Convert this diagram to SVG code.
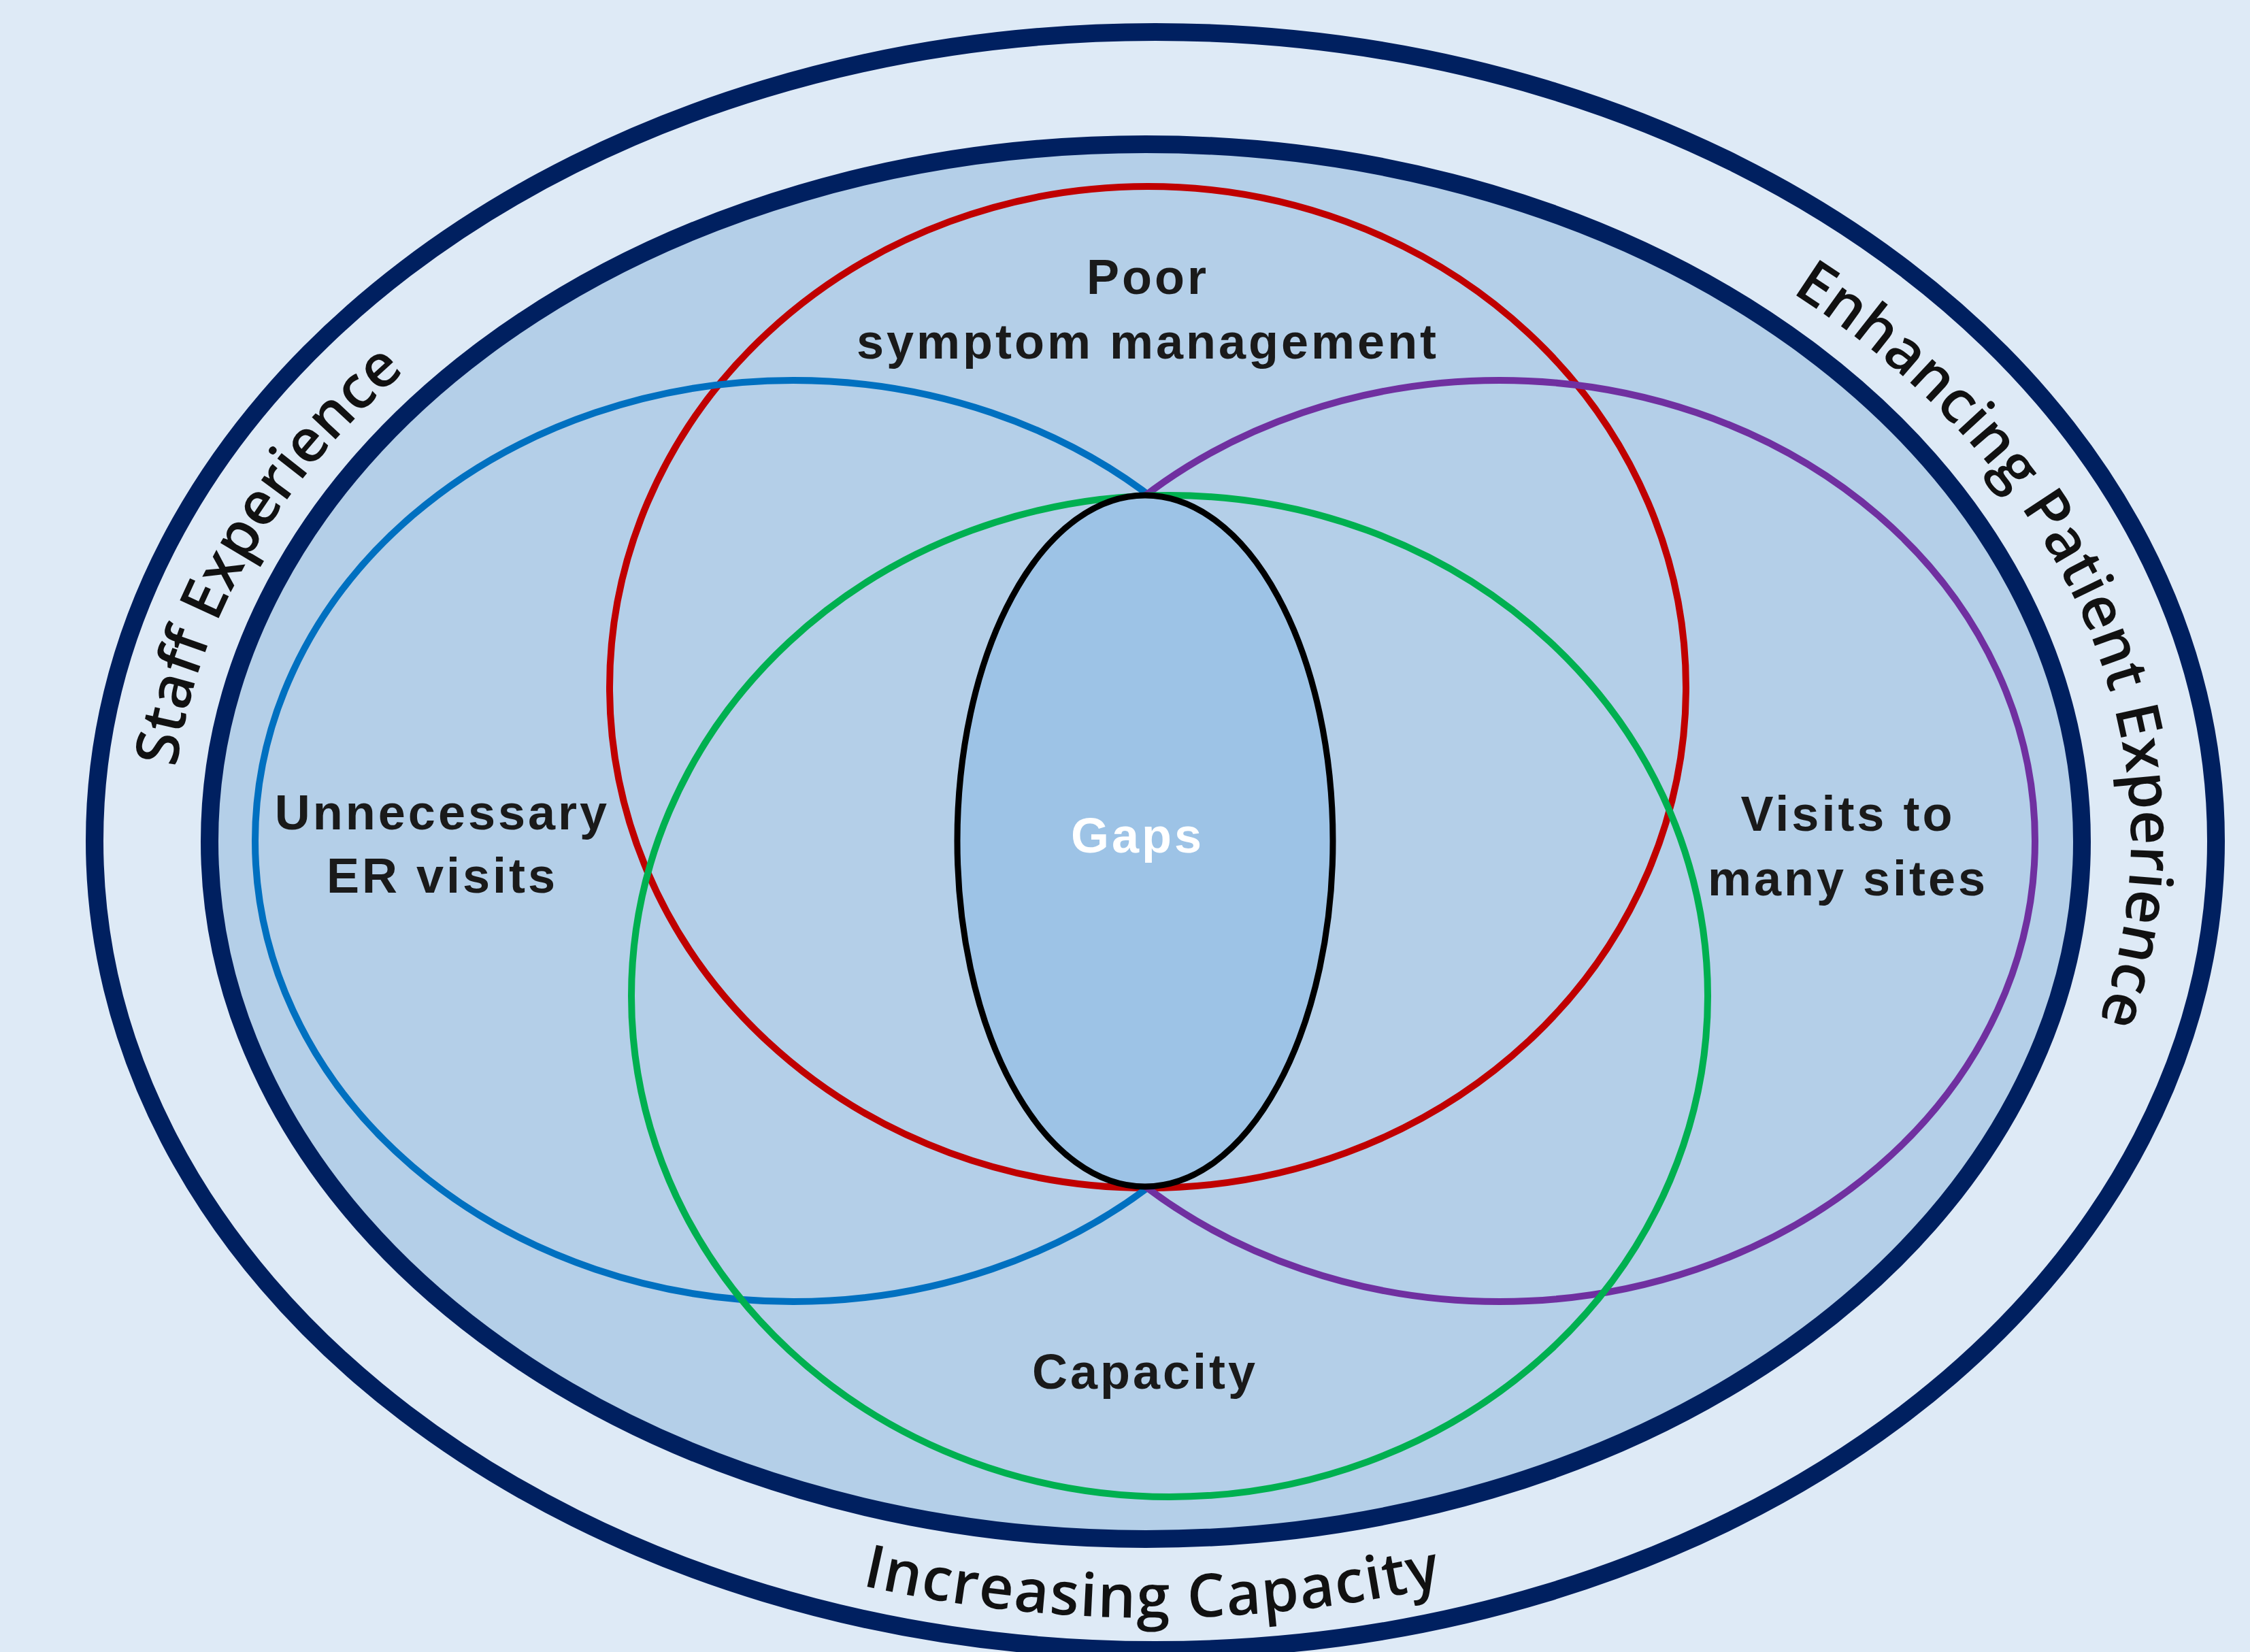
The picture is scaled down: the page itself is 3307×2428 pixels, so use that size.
<svg xmlns="http://www.w3.org/2000/svg" width="3307" height="2428" viewBox="0 0 3307 2428">
<style>
.ring{fill:none;stroke:#002060;stroke-width:26}
.set{fill:none;stroke-width:10}
.lbl{font-family:"Liberation Sans",Arial,sans-serif;font-weight:bold;font-size:72px;letter-spacing:4px;fill:#1a1a1a;text-anchor:middle}
.arc{font-family:"Open Sans","Liberation Sans",sans-serif;font-weight:600;font-size:88px;fill:#111;text-anchor:middle}
</style>
<defs>
<path id="ringPath" d="M1692,2296 A1440,1065 0 0 1 252,1236 A1440,1065 0 0 1 1692,171 A1440,1065 0 0 1 3132,1236 A1440,1065 0 0 1 1692,2296"/>
<path id="bottomPath" d="M194,1236 A1500,1142 0 0 0 3194,1236"/>
</defs>
<rect width="3307" height="2428" fill="#deeaf6"/>
<g id="outer-ring">
<ellipse class="ring" cx="1698" cy="1236" rx="1559" ry="1189"/>
<text class="arc"><textPath href="#ringPath" startOffset="2425">Staff Experience</textPath></text>
<text class="arc"><textPath href="#ringPath" startOffset="5570">Enhancing Patient Experience</textPath></text>
<text class="arc" style="letter-spacing:2px"><textPath href="#bottomPath" startOffset="50%">Increasing Capacity</textPath></text>
</g>
<g id="inner-ring">
<ellipse cx="1684" cy="1237" rx="1376" ry="1025" fill="#b4cfe8" stroke="#002060" stroke-width="26"/>
</g>
<g id="poor-symptom-management">
<ellipse class="set" cx="1687" cy="1010" rx="791" ry="736" stroke="#c00000"/>
<text class="lbl" x="1687" y="432">Poor</text>
<text class="lbl" x="1687" y="527">symptom management</text>
</g>
<g id="unnecessary-er-visits">
<ellipse class="set" cx="1166" cy="1236" rx="791" ry="677" stroke="#0070c0"/>
<text class="lbl" x="650" y="1219">Unnecessary</text>
<text class="lbl" x="650" y="1312">ER visits</text>
</g>
<g id="visits-to-many-sites">
<ellipse class="set" cx="2204" cy="1236" rx="787" ry="677" stroke="#7030a0"/>
<text class="lbl" x="2716" y="1221">Visits to</text>
<text class="lbl" x="2716" y="1316">many sites</text>
</g>
<g id="capacity">
<ellipse class="set" cx="1719" cy="1464" rx="791" ry="736" stroke="#00b050"/>
<text class="lbl" x="1683" y="2041">Capacity</text>
</g>
<g id="gaps">
<ellipse cx="1683" cy="1236" rx="276" ry="508" fill="#9dc3e6" stroke="#000" stroke-width="9"/>
<text class="lbl" x="1672" y="1253" style="fill:#fff">Gaps</text>
</g>
</svg>
